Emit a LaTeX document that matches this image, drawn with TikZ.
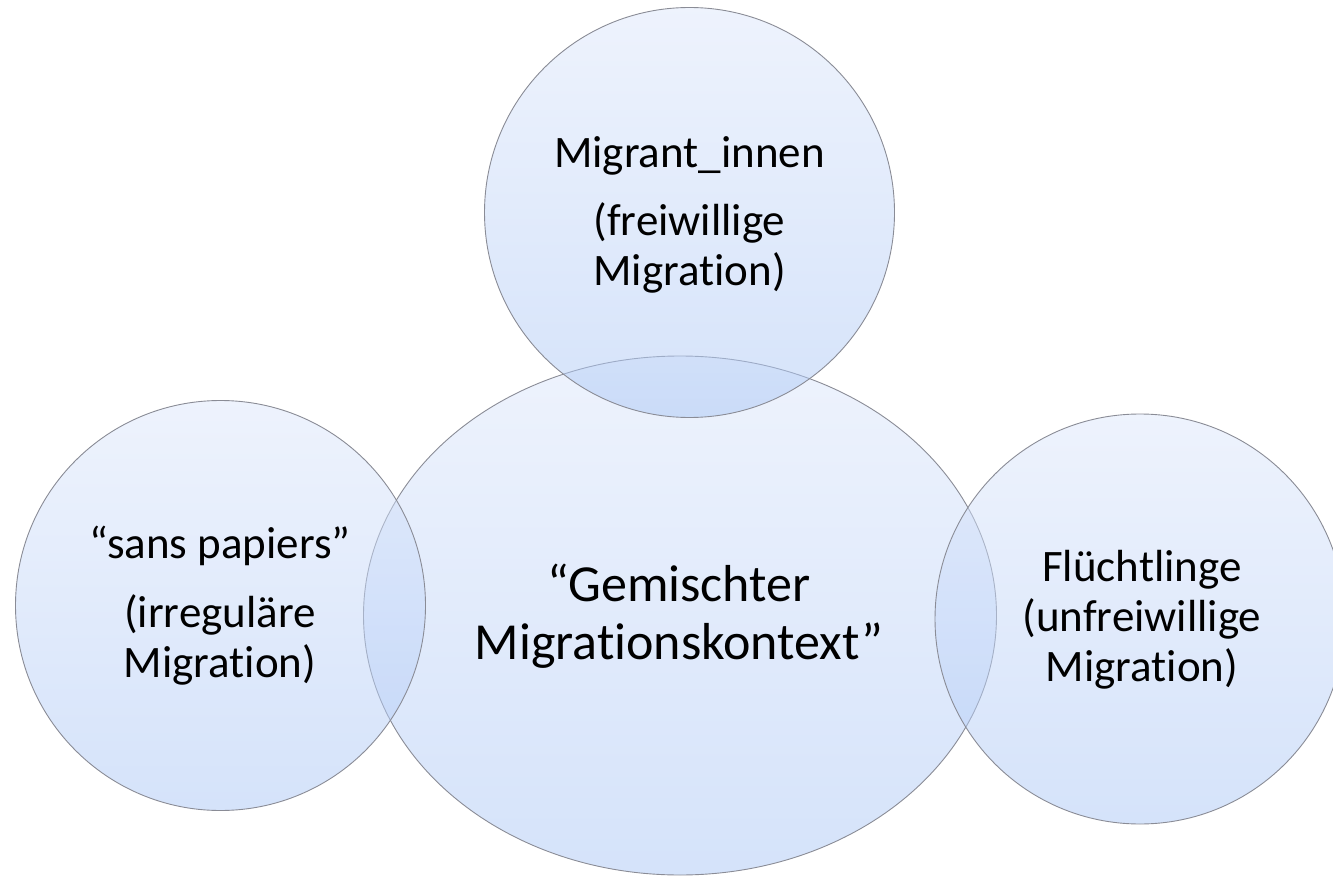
\documentclass[tikz,border=0pt]{standalone}
\usepackage{fontspec}
\setmainfont{Carlito}[Ligatures={NoCommon}]
\usetikzlibrary{shapes.geometric}
\definecolor{blobtop}{RGB}{221,231,251}
\definecolor{blobbot}{RGB}{171,199,245}
\definecolor{blobline}{RGB}{138,140,150}
\tikzset{
  blob/.style={draw=blobline, line width=0.9pt, inner sep=0pt, outer sep=0pt,
    top color=blobtop, bottom color=blobbot, fill opacity=0.5, draw opacity=1},
  roundblob/.style={blob, circle, minimum size=410pt},
  ovalblob/.style={blob, ellipse, minimum width=633pt, minimum height=519pt},
  smalltext/.style={align=center, text=black, font=\fontsize{45}{50}\selectfont},
  bigtext/.style={align=center, text=black, font=\fontsize{52}{58}\selectfont}
}
\begin{document}
\begin{tikzpicture}[x=1pt,y=-1pt]
\useasboundingbox (0,0) rectangle (1333,877);
\node[ovalblob] (mid) at (680,615.5) {};
\node[roundblob] (top) at (689.5,212.5) {};
\node[roundblob] (left) at (220.5,605.5) {};
\node[roundblob] (right) at (1140,619) {};
\node[smalltext] (toptext) at (689.5,215) {Migrant\_innen\\[18pt](freiwillige\\Migration)};
\node[smalltext] (lefttext) at (220,605.5) {“sans papiers”\\[19pt](irreguläre\\Migration)};
\node[smalltext] (righttext) at (1142,620) {Flüchtlinge\\(unfreiwillige\\Migration)};
\node[bigtext] (midtext) at (679,616) {“Gemischter\\Migrationskontext”};
\end{tikzpicture}
\end{document}
